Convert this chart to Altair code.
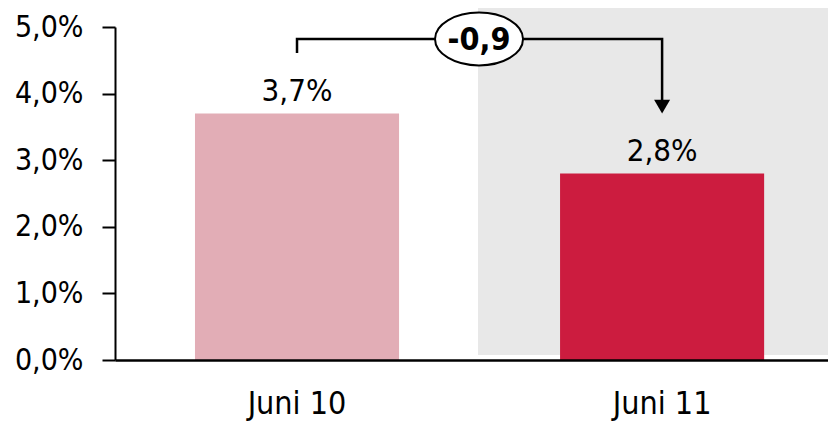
import altair as alt
import pandas as pd

# ---- data ----
categories = ["Juni 10", "Juni 11"]
values = [3.7, 2.8]
bar_colors = ["#e2adb6", "#cc1c3f"]
y_ticks = [0, 1, 2, 3, 4, 5]

diff_text = f"{values[1] - values[0]:.1f}".replace(".", ",")

FONT = "DejaVu Sans Condensed"

# ---- style constants (data-unit positions of decorations) ----
BRACKET_Y = 4.82
STUB_BOTTOM = 4.61
ARROW_LINE_END = 3.9
BG_TOP = 5.285
BG_BOTTOM = 0.075

W = 713
x_scale = alt.Scale(domain=categories, paddingInner=0.441, paddingOuter=0.197, align=0.556)
y_scale = alt.Scale(domain=[0, 5], nice=False, zero=True)

df = pd.DataFrame({"cat": categories, "value": values, "color": bar_colors})

xaxis = alt.Axis(title=None, ticks=False, labelFont=FONT, labelFontSize=32, labelPadding=28,
                 labelColor="black", domainColor="black", domainWidth=2.5, labelAngle=0, zindex=1)
yaxis = alt.Axis(title=None, values=y_ticks, labelFont=FONT, labelFontSize=30, labelPadding=19,
                 labelColor="black", domainColor="black", domainWidth=2, tickColor="black",
                 tickWidth=2, tickSize=13, grid=False, zindex=1,
                 labelExpr="replace(format(datum.value, '.1f'), '.', ',') + '%'")

# grey background panel behind second bar
bg = alt.Chart(pd.DataFrame({"y": [BG_TOP], "y2": [BG_BOTTOM]})).mark_rect(color="#e8e8e8").encode(
    x=alt.value(363), x2=alt.value(W),
    y=alt.Y("y:Q", scale=y_scale, axis=yaxis), y2="y2:Q",
)

bars = alt.Chart(df).mark_bar().encode(
    x=alt.X("cat:N", scale=x_scale, sort=categories, axis=xaxis),
    y=alt.Y("value:Q", scale=y_scale, axis=yaxis),
    color=alt.Color("color:N", scale=None),
)

labels = alt.Chart(df).transform_calculate(
    label="replace(format(datum.value, '.1f'), '.', ',') + '%'"
).mark_text(font=FONT, fontSize=31, color="black", baseline="alphabetic", dy=-13).encode(
    x=alt.X("cat:N", scale=x_scale, sort=categories),
    y=alt.Y("value:Q", scale=y_scale),
    text="label:N",
)

# bracket path
bracket_df = pd.DataFrame({
    "cat": [categories[0], categories[0], categories[1], categories[1]],
    "y": [STUB_BOTTOM, BRACKET_Y, BRACKET_Y, ARROW_LINE_END],
    "order": [0, 1, 2, 3],
})
bracket = alt.Chart(bracket_df).mark_line(color="black", strokeWidth=2.5, strokeJoin="miter", strokeCap="butt").encode(
    x=alt.X("cat:N", scale=x_scale, sort=categories),
    y=alt.Y("y:Q", scale=y_scale),
    order="order:Q",
)

arrow = alt.Chart(pd.DataFrame({"cat": [categories[1]], "y": [values[0]]})).mark_point(
    shape="triangle-down", size=256, filled=True, color="black", opacity=1, yOffset=-7
).encode(
    x=alt.X("cat:N", scale=x_scale, sort=categories),
    y=alt.Y("y:Q", scale=y_scale),
)

k = 0.6
c = 0.5523
kc = round(k * c, 4)
ellipse_path = (f"M -1 0 C -1 {-kc} {-c} {-k} 0 {-k} C {c} {-k} 1 {-kc} 1 0 "
                f"C 1 {kc} {c} {k} 0 {k} C {-c} {k} -1 {kc} -1 0 Z")

diff_df = pd.DataFrame({"cat": [categories[0]], "y": [BRACKET_Y], "label": [diff_text]})
ellipse = alt.Chart(diff_df).mark_point(
    shape=ellipse_path, size=7744, filled=True, fill="white", stroke="black", strokeWidth=2,
    opacity=1, fillOpacity=1, xOffset=182,
).encode(
    x=alt.X("cat:N", scale=x_scale, sort=categories),
    y=alt.Y("y:Q", scale=y_scale),
)
diff_label = alt.Chart(diff_df).mark_text(
    font=FONT, fontSize=32, fontWeight="bold", color="black", baseline="middle", xOffset=182, dy=1
).encode(
    x=alt.X("cat:N", scale=x_scale, sort=categories),
    y=alt.Y("y:Q", scale=y_scale),
    text="label:N",
)

chart = alt.layer(bg, bars, labels, bracket, arrow, ellipse, diff_label).properties(
    width=W, height=333,
    autosize=alt.AutoSizeParams(type="none"),
    padding={"left": 107, "top": 19, "right": 0, "bottom": 64},
    background="white",
).configure_view(stroke=None)

chart.save("out.html", embed_options={"renderer": "svg", "actions": False})
